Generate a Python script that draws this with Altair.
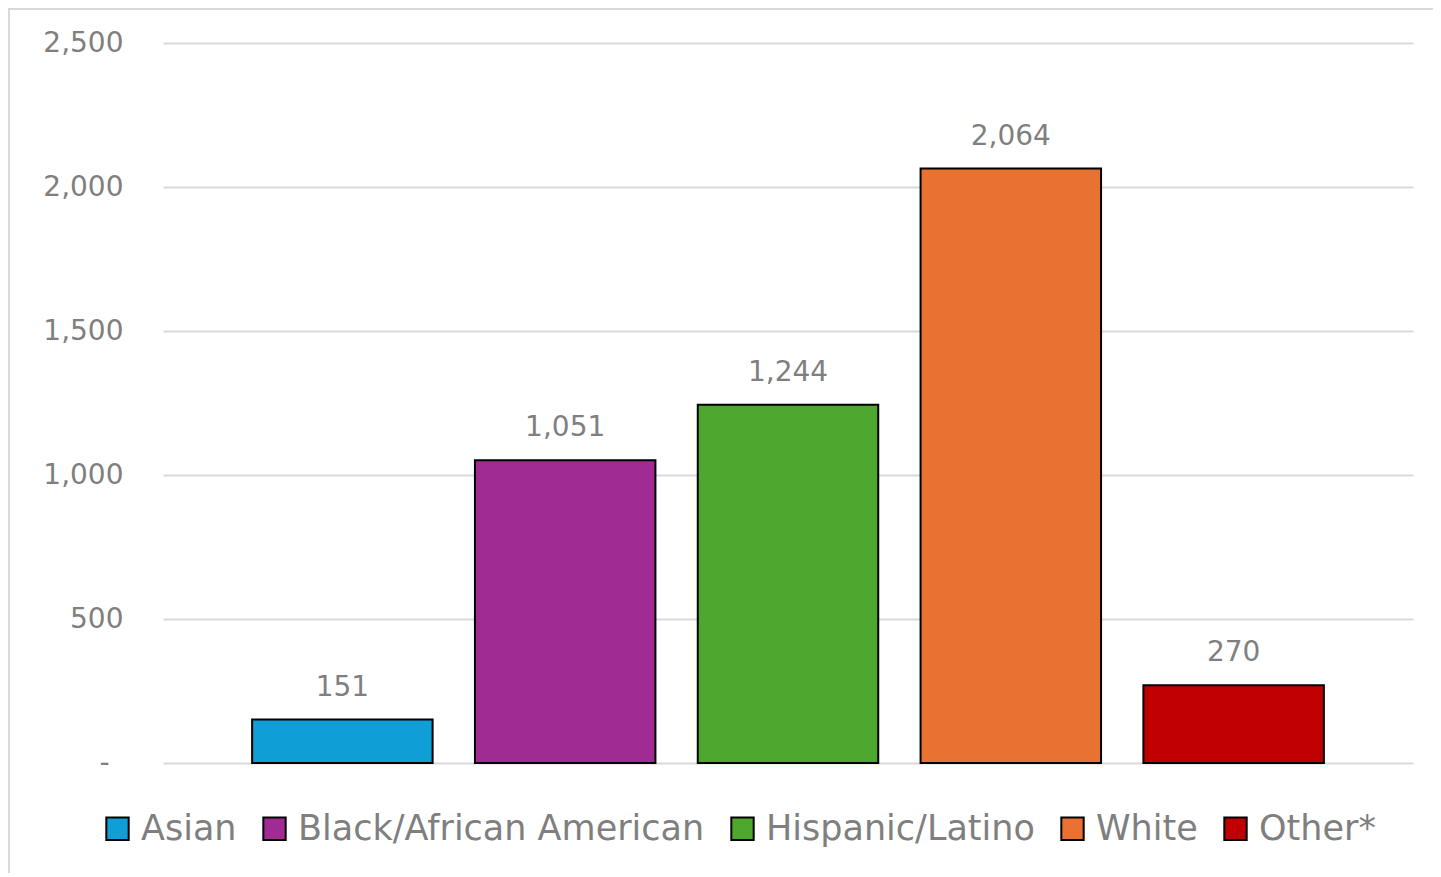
import altair as alt
import pandas as pd

categories = ["Asian", "Black/African American", "Hispanic/Latino", "White", "Other*"]
values = [151, 1051, 1244, 2064, 270]
colors = ["#0F9ED5", "#A02B93", "#4EA72E", "#E97132", "#C00000"]
y_ticks = [0, 500, 1000, 1500, 2000, 2500]

df = pd.DataFrame({"group": categories, "count": values})

FONT = "DejaVu Sans"
GRAY = "#7f7f7f"

x = alt.X("group:N", sort=categories, axis=None,
          scale=alt.Scale(paddingInner=0.19, paddingOuter=0.40))
y = alt.Y("count:Q",
          scale=alt.Scale(domain=[0, 2500], nice=False),
          axis=alt.Axis(values=y_ticks, title=None, domain=False, ticks=False,
                        labelPadding={"condition": {"test": "datum.value == 0", "value": 54},
                                      "value": 40},
                        labelFontSize=28, labelColor=GRAY,
                        labelFont=FONT, gridColor="#d9d9d9", gridWidth=2,
                        labelExpr="datum.value == 0 ? '-' : format(datum.value, ',')"))

bars = alt.Chart(df).mark_bar(stroke="black", strokeWidth=2).encode(
    x=x, y=y,
    color=alt.Color("group:N", sort=categories,
                    scale=alt.Scale(domain=categories, range=colors),
                    legend=alt.Legend(orient="none", legendX=-63, legendY=768,
                                      direction="horizontal", title=None,
                                      labelFontSize=35, labelColor=GRAY, labelFont=FONT,
                                      symbolType="square", symbolSize=500,
                                      symbolStrokeColor="black", symbolStrokeWidth=2,
                                      columnPadding=20, labelOffset=6,
                                      labelLimit=700))
)

labels = alt.Chart(df).mark_text(dy=-32, fontSize=28, color=GRAY, font=FONT).encode(
    x=x, y=y, text=alt.Text("count:Q", format=",")
)

frame = alt.Chart(alt.Data(values=[{"a": 1}])).mark_rect(
    fill=None, stroke="#d9d9d9", strokeWidth=2, clip=False
).encode(x=alt.value(-154), x2=alt.value(1400), y=alt.value(-34), y2=alt.value(900))

chart = alt.layer(frame, bars, labels).properties(
    width=1250, height=720,
    autosize=alt.AutoSizeParams(type="none"),
    padding={"left": 155, "top": 35, "right": 20, "bottom": 110},
).configure_view(stroke=None)

chart.save("out.html", embed_options={"renderer": "svg", "actions": False})
